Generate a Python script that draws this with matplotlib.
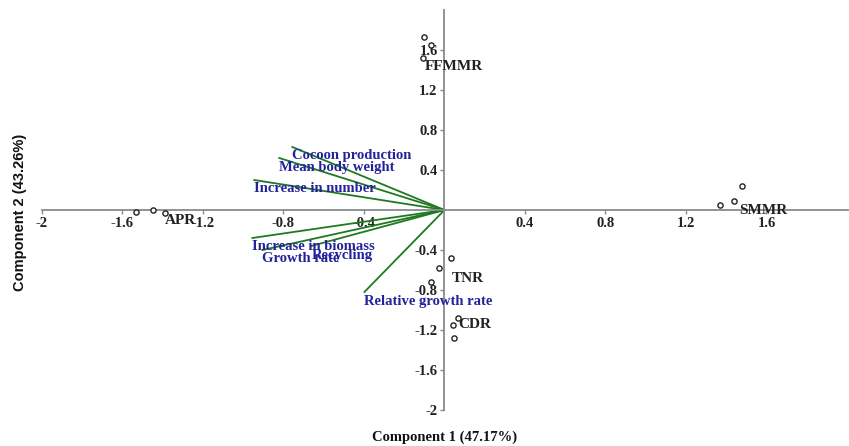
import matplotlib
matplotlib.use("Agg")
import matplotlib.pyplot as plt
from matplotlib.ticker import FixedLocator, FixedFormatter

# ---- data ----
groups = ["APR", "FFMMR", "SMMR", "TNR", "CDR"]
pc1_scores = {
    "APR":   [-1.532, -1.448, -1.388],
    "FFMMR": [-0.100, -0.065, -0.105],
    "SMMR":  [1.480, 1.440, 1.370],
    "TNR":   [0.030, -0.025, -0.065],
    "CDR":   [0.065, 0.040, 0.045],
}
pc2_scores = {
    "APR":   [-0.02, 0.00, -0.03],
    "FFMMR": [1.73, 1.65, 1.52],
    "SMMR":  [0.24, 0.09, 0.05],
    "TNR":   [-0.48, -0.58, -0.72],
    "CDR":   [-1.08, -1.15, -1.28],
}
variables = ["Cocoon production", "Mean body weight", "Increase in number",
             "Increase in biomass", "Growth rate", "Recycling",
             "Relative growth rate"]
load_pc1 = [-0.756, -0.821, -0.945, -0.955, -0.905, -0.662, -0.398]
load_pc2 = [0.63, 0.52, 0.30, -0.28, -0.40, -0.36, -0.82]

xticks = [-2, -1.6, -1.2, -0.8, -0.4, 0.4, 0.8, 1.2, 1.6]
yticks = [-2, -1.6, -1.2, -0.8, -0.4, 0.4, 0.8, 1.2, 1.6]
xlabel = "Component 1 (47.17%)"
ylabel = "Component 2 (43.26%)"

# label anchor: index of point and pixel offset
label_anchor = {"APR": (2, 0, -8), "FFMMR": (2, 1, -9), "SMMR": (1, 5, -10),
                "TNR": (2, 20, 4), "CDR": (1, 6, 0)}

serif = ["Liberation Serif", "DejaVu Serif"]
sans = ["Liberation Sans", "DejaVu Sans"]

fig = plt.figure(figsize=(8.49, 4.46), dpi=100)
ax = fig.add_axes([42 / 849, 36 / 446, 806 / 849, 400 / 446])
ax.set_xlim(-2, 2.005)
ax.set_ylim(-2, 2)

for s in ["top", "right"]:
    ax.spines[s].set_visible(False)
ax.spines["left"].set_position(("data", 0))
ax.spines["bottom"].set_position(("data", 0))
for s in ["left", "bottom"]:
    ax.spines[s].set_color("#8a8a8a")
    ax.spines[s].set_linewidth(1.3)

ax.xaxis.set_major_locator(FixedLocator(xticks))
ax.xaxis.set_major_formatter(FixedFormatter([f"{t:g}" for t in xticks]))
ax.yaxis.set_major_locator(FixedLocator(yticks))
ax.yaxis.set_major_formatter(FixedFormatter([f"{t:g}" for t in yticks]))
ax.tick_params(axis="both", direction="out", length=3, width=1,
               color="#8a8a8a", labelsize=10.5, pad=2)
for lab in ax.get_xticklabels() + ax.get_yticklabels():
    lab.set_fontfamily(serif)
    lab.set_fontweight("bold")
    lab.set_color("#222222")

# loadings
for name, lx, ly in zip(variables, load_pc1, load_pc2):
    ax.plot([0, lx], [0, ly], color="#1f7a1f", lw=1.3, zorder=2)
    ax.annotate(name, (lx, ly), xytext=(0, -9), textcoords="offset pixels",
                ha="left", va="center", fontsize=10.5, fontweight="bold",
                family=serif, color="#22229a", zorder=3)

# scores
for g in groups:
    ax.scatter(pc1_scores[g], pc2_scores[g], s=14, facecolors="white",
               edgecolors="#222222", linewidths=1.0, zorder=4)
    i, dx, dy = label_anchor[g]
    ax.annotate(g, (pc1_scores[g][i], pc2_scores[g][i]), xytext=(dx, dy),
                textcoords="offset pixels", ha="left", va="center",
                fontsize=11, fontweight="bold", family=serif,
                color="#222222", zorder=5)

fig.text(445 / 849, 1 - 437 / 446, xlabel, ha="center", va="center",
         fontsize=10.5, fontweight="bold", family=serif, color="#111111")
fig.text(20 / 849, 1 - 212 / 446, ylabel, ha="center", va="center",
         rotation=90, fontsize=10.5, fontweight="bold", family=sans,
         color="#111111")

fig.savefig("out.png", dpi=100)
